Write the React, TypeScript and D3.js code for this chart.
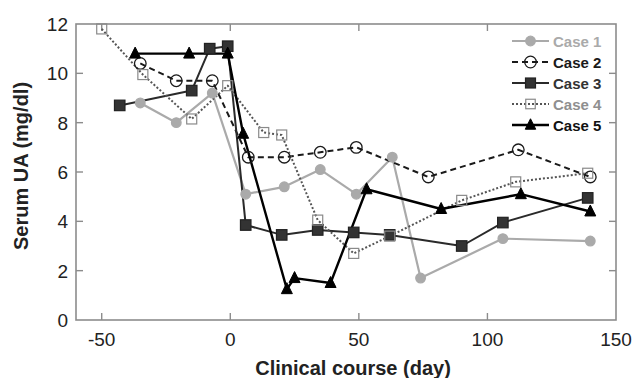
import React from "react";
import * as d3 from "d3";

const W = 634;
const H = 378;
const M = { left: 76, top: 24, right: 616, bottom: 320 };

const xTicks = [-50, 0, 50, 100, 150];
const yTicks = [0, 2, 4, 6, 8, 10, 12];

const case1: [number, number][] = [[-35, 8.8], [-21, 8.0], [-7, 9.2], [6, 5.1], [21, 5.4], [35, 6.1], [49, 5.1], [63, 6.6], [74, 1.7], [106, 3.3], [140, 3.2]];
const case2: [number, number][] = [[-35, 10.4], [-21, 9.7], [-7, 9.7], [7, 6.6], [21, 6.6], [35, 6.8], [49, 7.0], [77, 5.8], [112, 6.9], [140, 5.8]];
const case3: [number, number][] = [[-43, 8.7], [-15, 9.3], [-8, 11.0], [-1, 11.1], [6, 3.85], [20, 3.45], [34, 3.65], [48, 3.55], [62, 3.45], [90, 3.0], [106, 3.95], [139, 4.95]];
const case4: [number, number][] = [[-50, 11.8], [-34, 9.95], [-15, 8.15], [-1, 9.5], [13, 7.6], [20, 7.5], [34, 4.05], [48, 2.7], [62, 3.4], [90, 4.85], [111, 5.6], [139, 5.95]];
const case5: [number, number][] = [[-37, 10.8], [-16, 10.8], [-1, 10.8], [5, 7.55], [22, 1.25], [25, 1.7], [39, 1.5], [53, 5.3], [82, 4.5], [113, 5.1], [140, 4.4]];

const seriesNames = ["Case 1", "Case 2", "Case 3", "Case 4", "Case 5"];

type Style = {
  data: [number, number][];
  stroke: string;
  width: number;
  dash?: string;
  marker: "circle" | "square" | "triangle";
  mFill: string;
  mStroke: string;
  mSize: number;
  text: string;
};

const styles: Style[] = [
  { data: case1, stroke: "#aaaaaa", width: 2.2, marker: "circle", mFill: "#aaaaaa", mStroke: "#aaaaaa", mSize: 4.8, text: "#aaaaaa" },
  { data: case2, stroke: "#1a1a1a", width: 2, dash: "6,4", marker: "circle", mFill: "none", mStroke: "#1a1a1a", mSize: 5.8, text: "#1a1a1a" },
  { data: case3, stroke: "#2a2a2a", width: 2, marker: "square", mFill: "#333333", mStroke: "#222222", mSize: 10.5, text: "#333333" },
  { data: case4, stroke: "#555555", width: 2, dash: "2,2", marker: "square", mFill: "none", mStroke: "#8a8a8a", mSize: 10, text: "#8f8f8f" },
  { data: case5, stroke: "#000000", width: 2.4, marker: "triangle", mFill: "#000000", mStroke: "#000000", mSize: 11, text: "#111111" },
];

function Marker({ s, x, y }: { s: Style; x: number; y: number }) {
  if (s.marker === "circle") {
    return <circle cx={x} cy={y} r={s.mSize} fill={s.mFill} stroke={s.mStroke} strokeWidth={1.3} />;
  }
  if (s.marker === "square") {
    const h = s.mSize / 2;
    return <rect x={x - h} y={y - h} width={s.mSize} height={s.mSize} fill={s.mFill} stroke={s.mStroke} strokeWidth={1.2} />;
  }
  const h = s.mSize / 2;
  return <path d={`M${x},${y - h - 1}L${x + h},${y + h - 1}L${x - h},${y + h - 1}Z`} fill={s.mFill} stroke={s.mStroke} strokeWidth={1} />;
}

export default function App() {
  const x = d3.scaleLinear().domain([-60, 150]).range([M.left, M.right]);
  const y = d3.scaleLinear().domain([0, 12]).range([M.bottom, M.top]);
  const line = d3
    .line<[number, number]>()
    .x((d) => x(d[0]))
    .y((d) => y(d[1]));
  const font = "'Liberation Sans', Arial, Helvetica, sans-serif";
  const frame = "#8c8c8c";
  const tl = 7;

  return (
    <svg width={W} height={H} style={{ position: "absolute", left: 0, top: 0, background: "#fff" }} fontFamily={font}>
      <rect x={0} y={0} width={W} height={H} fill="#fff" />
      {/* frame */}
      <rect x={M.left} y={M.top} width={M.right - M.left} height={M.bottom - M.top} fill="none" stroke={frame} strokeWidth={1.6} />
      {/* ticks */}
      {xTicks.map((t) => (
        <g key={"xt" + t}>
          {t > -60 && t < 150 && (
            <>
              <line x1={x(t)} x2={x(t)} y1={M.bottom} y2={M.bottom - tl} stroke={frame} strokeWidth={1.4} />
              <line x1={x(t)} x2={x(t)} y1={M.top} y2={M.top + tl} stroke={frame} strokeWidth={1.4} />
            </>
          )}
          <text x={x(t)} y={346} textAnchor="middle" fontSize={19} fill="#222">
            {t < 0 ? "-" + Math.abs(t) : t}
          </text>
        </g>
      ))}
      {yTicks.map((t) => (
        <g key={"yt" + t}>
          {t > 0 && t < 12 && (
            <>
              <line x1={M.left} x2={M.left + tl} y1={y(t)} y2={y(t)} stroke={frame} strokeWidth={1.4} />
              <line x1={M.right} x2={M.right - tl} y1={y(t)} y2={y(t)} stroke={frame} strokeWidth={1.4} />
            </>
          )}
          <text x={68} y={y(t) + 7} textAnchor="end" fontSize={19} fill="#222">
            {t}
          </text>
        </g>
      ))}
      {/* axis titles */}
      <text x={353} y={375} textAnchor="middle" fontSize={20} fontWeight="bold" fill="#222">
        Clinical course (day)
      </text>
      <text transform={`translate(28,166) rotate(-90)`} textAnchor="middle" fontSize={20} fontWeight="bold" fill="#222">
        Serum UA (mg/dl)
      </text>
      {/* series lines */}
      {styles.map((s, i) => (
        <path key={"l" + i} d={line(s.data) || ""} fill="none" stroke={s.stroke} strokeWidth={s.width} strokeDasharray={s.dash} strokeLinejoin="round" />
      ))}
      {/* markers */}
      {styles.map((s, i) => (
        <g key={"m" + i}>
          {s.data.map((d, j) => (
            <Marker key={j} s={s} x={x(d[0])} y={y(d[1])} />
          ))}
        </g>
      ))}
      {/* legend */}
      {styles.map((s, i) => {
        const ly = 41 + i * 21;
        return (
          <g key={"lg" + i}>
            <line x1={512} x2={549} y1={ly} y2={ly} stroke={s.stroke} strokeWidth={s.width} strokeDasharray={s.dash} />
            <Marker s={{ ...s, mSize: s.marker === "circle" ? s.mSize : s.mSize * 0.95 }} x={530.5} y={ly} />
            <text x={553} y={ly + 5.5} fontSize={15} fontWeight="bold" fill={s.text}>
              {seriesNames[i]}
            </text>
          </g>
        );
      })}
    </svg>
  );
}
